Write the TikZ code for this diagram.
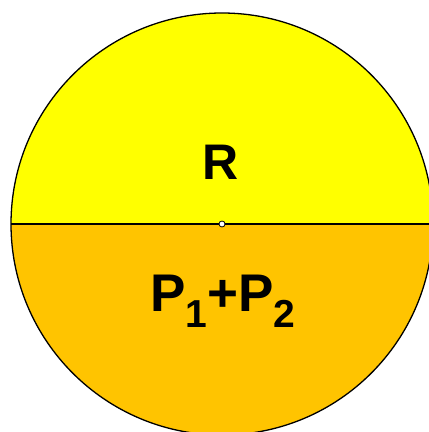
\documentclass[tikz,border=0pt]{standalone}
\usepackage{fontspec}
\setmainfont{Liberation Sans}
\usepackage{tikz}

\definecolor{upperyellow}{RGB}{255,255,0}
\definecolor{lowergold}{RGB}{255,196,0}
\newcommand{\lowsub}[1]{\raisebox{-16pt}{\fontsize{39}{39}\selectfont #1}}

\begin{document}
\begin{tikzpicture}[x=1pt,y=1pt]
      \useasboundingbox (0,0) rectangle (429,432);
      \clip (0,0) rectangle (429,432);
      \coordinate (c) at (222,208);
      \coordinate (w) at (11,208);
      \coordinate (e) at (433,208);
      \fill[upperyellow] (e) arc (0:180:211) -- cycle;
      \fill[lowergold] (w) arc (180:360:211) -- cycle;
      \draw[line width=1.3pt] (c) circle (211);
      \draw[line width=1.5pt] (w) to (e);
      \node (centre) at (c) [circle, draw, line width=0.8pt, fill=white, inner sep=0pt, minimum size=6pt] {};
      \node (R) at (221,270) {\fontsize{50}{50}\selectfont\bfseries R};
      \node[anchor=base] (P) at (223,120) {\fontsize{53}{53}\selectfont\bfseries P\lowsub{1}+P\lowsub{2}};
    \end{tikzpicture}
\end{document}
